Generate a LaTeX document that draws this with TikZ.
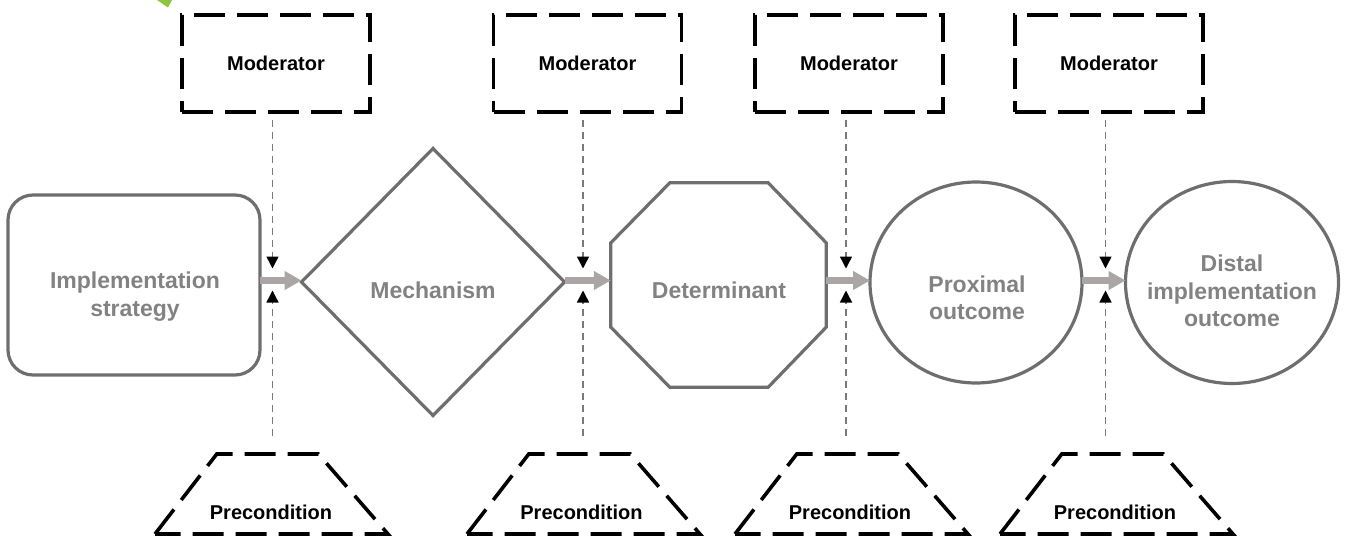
\documentclass[tikz,border=0pt]{standalone}
\usepackage{fontspec}
\setmainfont{Liberation Sans}
\usetikzlibrary{shapes.geometric,arrows.meta,calc}

\definecolor{shapegray}{HTML}{6E6E6E}
\definecolor{textgray}{HTML}{828282}
\definecolor{flowgray}{HTML}{AAA6A6}
\definecolor{dashgray}{HTML}{7A7A7A}
\definecolor{leafgreen}{HTML}{8CC63F}

\tikzset{
  shapeline/.style={draw=shapegray, line width=3.2pt, inner sep=0pt, outer sep=0pt},
  gtext/.style={text=textgray, font=\bfseries\fontsize{23}{27.5}\selectfont,
                align=center, inner sep=0pt},
  btext/.style={text=black, font=\bfseries\fontsize{20}{24}\selectfont, inner sep=0pt},
  modbox/.style={btext, draw=black, line width=3.6pt, dash pattern=on 31pt off 12pt,
                 minimum width=188pt, minimum height=97pt, outer sep=0pt},
  prebox/.style={trapezium, draw=black, line width=3.6pt, dash pattern=on 31pt off 12pt,
                 trapezium left angle=58.7, trapezium right angle=55.6,
                 trapezium stretches=true, minimum width=233pt, minimum height=80pt,
                 inner sep=4pt, outer sep=0pt, anchor=bottom left corner},
  modline/.style={draw=dashgray, line width=1.4pt, dash pattern=on 7pt off 5pt,
                  -{Triangle[width=12pt,length=12pt,color=black]}},
  flow/.style={draw=flowgray, line width=6.5pt,
               -{Triangle[width=18pt,length=17pt,color=flowgray]}},
}

\begin{document}
\begin{tikzpicture}[x=1pt,y=-1pt]
\useasboundingbox (0,0) rectangle (1349,538);

% corner of a green marker cut off by the top edge
\fill[leafgreen] (157,0) -- (172,0) -- (168,7.5) -- cycle;

% junctions where the influences meet the causal chain
\coordinate (j1) at (272.5,280.5);
\coordinate (j2) at (583,280.5);
\coordinate (j3) at (846,280.5);
\coordinate (j4) at (1105.5,280.5);

% causal chain
\node[shapeline, rounded corners=25pt, minimum width=252pt, minimum height=180pt]
  (impl) at (134,285) {};
\node[gtext] (implT) at (135,296.5) {Implementation\\strategy};

\node[shapeline, diamond, minimum width=263pt, minimum height=267pt] (mech) at (433,282) {};
\node[gtext, anchor=base] (mechT) at (433,298) {Mechanism};

\node[inner sep=0pt, minimum width=215pt, minimum height=204pt] (det) at (718.5,285) {};
\draw[shapeline]
  ($(det.north west)+(59,0)$) -- ($(det.north east)+(-58,0)$) --
  ($(det.north east)+(0,60)$) -- ($(det.south east)+(0,-60)$) --
  ($(det.south east)+(-58,0)$) -- ($(det.south west)+(59,0)$) --
  ($(det.south west)+(0,-60)$) -- ($(det.north west)+(0,60)$) -- cycle;
\node[gtext, anchor=base] (detT) at (719,298) {Determinant};

\node[shapeline, ellipse, minimum width=212pt, minimum height=201pt] (prox) at (976,282.5) {};
\node[gtext] (proxT) at (977,297.6) {Proximal\\outcome};

\node[shapeline, ellipse, minimum width=213pt, minimum height=202pt] (dist) at (1232,282.5) {};
\node[gtext] (distT) at (1232,291) {Distal\\implementation\\outcome};

% moderators
\node[modbox] (mod1) at (276,63.5) {Moderator};
\node[modbox] (mod2) at (587.5,63.5) {Moderator};
\node[modbox] (mod3) at (849,63.5) {Moderator};
\node[modbox] (mod4) at (1109,63.5) {Moderator};

% preconditions
\node[prebox] (pre1) at (155,534) {};
\node[prebox] (pre2) at (467,534) {};
\node[prebox] (pre3) at (735,534) {};
\node[prebox] (pre4) at (1000,534) {};
\node[btext, anchor=base] (pre1T) at (271,519) {Precondition};
\node[btext, anchor=base] (pre2T) at (581.5,519) {Precondition};
\node[btext, anchor=base] (pre3T) at (850,519) {Precondition};
\node[btext, anchor=base] (pre4T) at (1115,519) {Precondition};

% flow arrows
\draw[flow] (impl.east |- j1) -- (mech.west |- j1);
\draw[flow] (mech.east |- j2) -- (det.west |- j2);
\draw[flow] (det.east |- j3) -- (prox.west |- j3);
\draw[flow] (prox.east |- j4) -- (dist.west |- j4);

% moderator and precondition influences
\foreach \i in {1,2,3,4}{
  \draw[modline] ($(mod\i.south -| j\i)+(0,8)$) -- ($(j\i)+(0,-12)$);
  \draw[modline] ($(pre\i.north -| j\i)+(0,-18)$) -- ($(j\i)+(0,10)$);
}
\end{tikzpicture}
\end{document}
